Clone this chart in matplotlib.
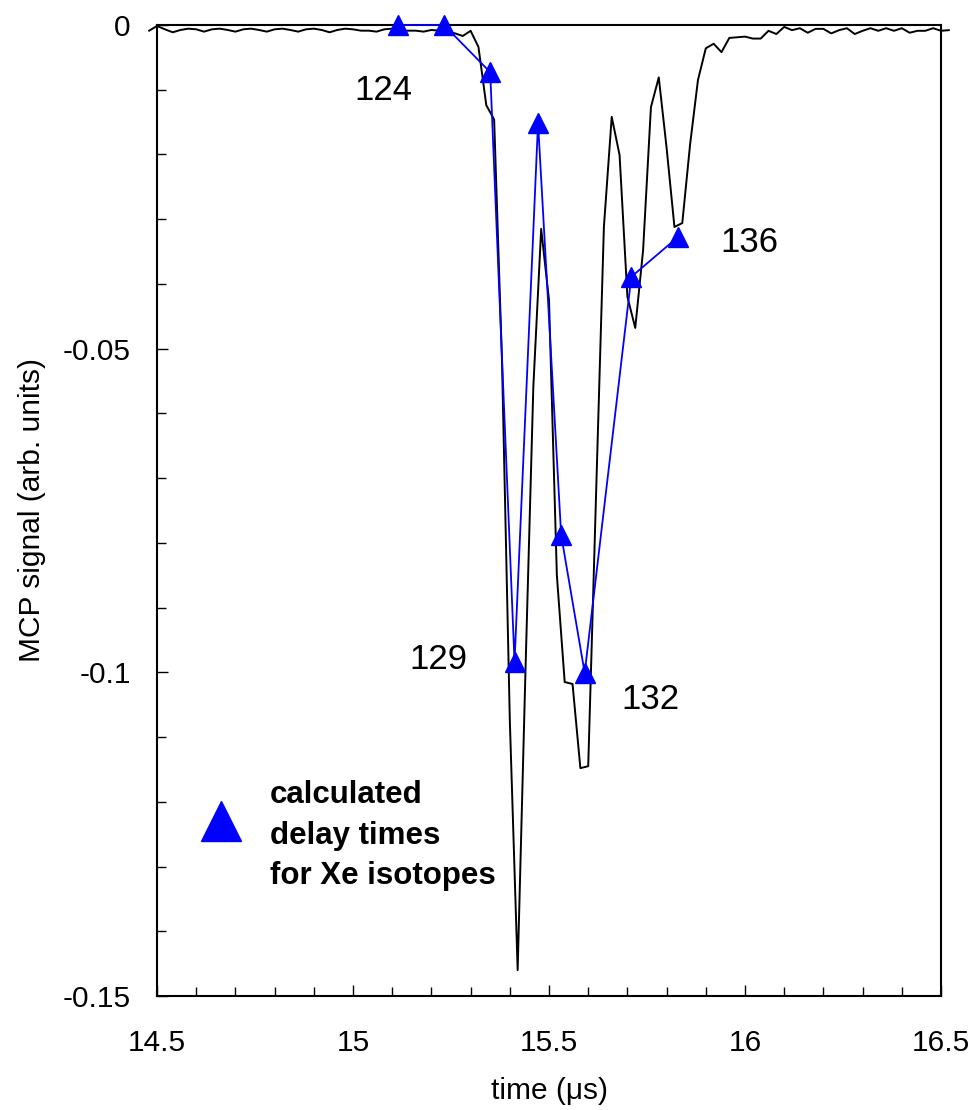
import numpy as np
import matplotlib
matplotlib.use("Agg")
import matplotlib.pyplot as plt
from matplotlib.ticker import MultipleLocator, FormatStrFormatter

plt.rcParams["font.family"] = ["Liberation Sans", "DejaVu Sans"]
plt.rcParams["axes.unicode_minus"] = False

# MCP trace, sampled every 20 ns starting at 14.48 us
t0 = 14.48
dt = 0.02
signal = [
    -0.00088, -0.00015, -0.00067, -0.00113, -0.00077, -0.00057, -0.00067, -0.00103,
    -0.00067, -0.00057, -0.00077, -0.00103, -0.00067, -0.00057, -0.00077, -0.00103,
    -0.00067, -0.00057, -0.00077, -0.00103, -0.00067, -0.00057, -0.00077, -0.00113,
    -0.00077, -0.00057, -0.00067, -0.00088, -0.00088, -0.00103, -0.00067, -0.00057,
    -0.00088, -0.00088, -0.00088, -0.00103, -0.00077, -0.00088, -0.00103, -0.00129,
    -0.0017, -0.0009, -0.0034, -0.0124, -0.0146, -0.0518, -0.1074, -0.1460,
    -0.0996, -0.0559, -0.0315, -0.0425, -0.0850, -0.1015, -0.1018, -0.1148,
    -0.1145, -0.0726, -0.0312, -0.0142, -0.0201, -0.0420, -0.0468, -0.0348,
    -0.0127, -0.0081, -0.0190, -0.0312, -0.0306, -0.0184, -0.0085, -0.0036,
    -0.0029, -0.0042, -0.0020, -0.0019, -0.0018, -0.0021, -0.0021, -0.0009,
    -0.0014, -0.0003, -0.0008, -0.0005, -0.0012, -0.0006, -0.0006, -0.0013,
    -0.0008, -0.0005, -0.0014, -0.0009, -0.0005, -0.0009, -0.0005, -0.0009,
    -0.0005, -0.0012, -0.0009, -0.0009, -0.0005, -0.0009, -0.0008,
]
time = t0 + dt * np.arange(len(signal))

# calculated arrival times of the Xe isotopes
calc_time = [15.114, 15.232, 15.350, 15.412, 15.472, 15.531, 15.591, 15.710, 15.830]
calc_signal = [0.0, 0.0, -0.0073, -0.0984, -0.0151, -0.0788, -0.1001, -0.0389, -0.0327]

# mass labels: (text, index of the point, offset in points)
mass_labels = ["124", "129", "132", "136"]
mass_index = [0, 3, 6, 8]
mass_offset = [(-10, -54), (-55, -5), (47, -26), (51, -11)]

fig = plt.figure(figsize=(9.73, 11.10), dpi=100)
ax = fig.add_axes([0.1614, 0.1027, 0.8057, 0.8748])

ax.plot(time, signal, color="black", lw=1.4, clip_on=False, zorder=2)
ax.plot(calc_time, calc_signal, color="blue", lw=1.3, marker="^", ms=14,
        mec="blue", mfc="blue", clip_on=False, zorder=3,
        label="calculated\ndelay times\nfor Xe isotopes")

for text, i, off in zip(mass_labels, mass_index, mass_offset):
    ax.annotate(text, (calc_time[i], calc_signal[i]), xytext=off,
                textcoords="offset points", ha="center", va="baseline",
                fontsize=25)

ax.set_xlim(14.5, 16.5)
ax.set_ylim(-0.15, 0)
ax.xaxis.set_major_locator(MultipleLocator(0.5))
ax.xaxis.set_minor_locator(MultipleLocator(0.1))
ax.yaxis.set_major_locator(MultipleLocator(0.05))
ax.yaxis.set_minor_locator(MultipleLocator(0.01))
ax.xaxis.set_major_formatter(FormatStrFormatter("%g"))
ax.yaxis.set_major_formatter(FormatStrFormatter("%g"))

ax.tick_params(which="both", direction="in", top=False, right=False, width=1)
ax.tick_params(which="major", length=8)
ax.tick_params(which="minor", length=6.5)
ax.tick_params(axis="x", which="major", pad=24, labelsize=21.5)
ax.tick_params(axis="y", which="major", pad=19, labelsize=21.5)
for s in ax.spines.values():
    s.set_linewidth(1.5)

ax.set_xlabel("time (\u03bcs)", fontsize=21.5, labelpad=14)
ax.set_ylabel("MCP signal (arb. units)", fontsize=21.5, labelpad=12)

leg = ax.legend(loc="center left", bbox_to_anchor=(0.018, 0.165), frameon=False,
                numpoints=1, markerscale=2.1, handlelength=1.4, handletextpad=0.85,
                prop={"weight": "bold", "size": 22.5})
for txt in leg.get_texts():
    txt.set_linespacing(1.45)
# key triangle sits a little above the middle of the text block
for h in leg.legend_handles:
    h.set_linestyle("none")
    h.set_ydata(np.asarray(h.get_ydata()) + 10.8)

fig.savefig("out.png", dpi=100)
